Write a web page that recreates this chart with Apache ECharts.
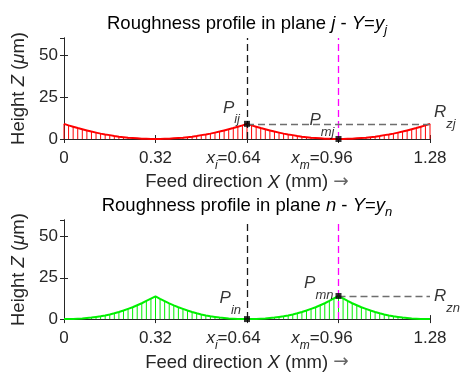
<!DOCTYPE html>
<html><head><meta charset="utf-8">
<script src="https://cdn.jsdelivr.net/npm/echarts@6/dist/echarts.min.js"></script>
<style>html,body{margin:0;padding:0;background:#fff}#c{width:462px;height:373px}</style>
</head><body><div id="c"></div>
<script>
// ---- data ----
const sampleX = [0,0.016,0.032,0.048,0.064,0.08,0.096,0.112,0.128,0.144,0.16,0.176,0.192,0.208,0.224,0.24,0.256,0.272,0.288,0.304,0.32,0.336,0.352,0.368,0.384,0.4,0.416,0.432,0.448,0.464,0.48,0.496,0.512,0.528,0.544,0.56,0.576,0.592,0.608,0.624,0.64,0.656,0.672,0.688,0.704,0.72,0.736,0.752,0.768,0.784,0.8,0.816,0.832,0.848,0.864,0.88,0.896,0.912,0.928,0.944,0.96,0.976,0.992,1.008,1.024,1.04,1.056,1.072,1.088,1.104,1.12,1.136,1.152,1.168,1.184,1.2,1.216,1.232,1.248,1.264,1.28];
const profileJ = [9.0,8.1,7.3,6.5,5.8,5.1,4.4,3.8,3.2,2.7,2.3,1.8,1.4,1.1,0.8,0.6,0.4,0.2,0.1,0.0,0.0,
  0.0,0.1,0.2,0.4,0.6,0.8,1.1,1.4,1.8,2.3,2.7,3.2,3.8,4.4,5.1,5.8,6.5,7.3,8.1,9.0,
  8.1,7.3,6.5,5.8,5.1,4.4,3.8,3.2,2.7,2.3,1.8,1.4,1.1,0.8,0.6,0.4,0.2,0.1,0.0,0.0,
  0.0,0.1,0.2,0.4,0.6,0.8,1.1,1.4,1.8,2.3,2.7,3.2,3.8,4.4,5.1,5.8,6.5,7.3,8.1,9.0];
const profileN = [0.0,0.0,0.1,0.2,0.3,0.6,0.9,1.3,1.7,2.2,2.8,3.5,4.3,5.2,6.2,7.2,8.4,9.6,11.0,12.4,13.8,
  12.3,10.9,9.5,8.3,7.2,6.2,5.2,4.3,3.5,2.8,2.2,1.7,1.3,0.9,0.6,0.3,0.2,0.1,0.0,0.0,
  0.0,0.1,0.2,0.3,0.6,0.9,1.3,1.7,2.2,2.8,3.5,4.3,5.2,6.2,7.2,8.4,9.6,11.0,12.5,14.0,
  12.5,11.0,9.6,8.4,7.2,6.2,5.2,4.3,3.5,2.8,2.2,1.7,1.3,0.9,0.6,0.3,0.2,0.1,0.0,0.0];
const xi = 0.64, xm = 0.96;
const pointsJ = [[0.64, 9.0], [0.96, 0.0]];   // P_ij, P_mj
const pointsN = [[0.64, 0.0], [0.96, 14.0]];  // P_in, P_mn
const rzJ = 9.0, rzN = 14.0;
const xTicksNum = ['0', '0.32', '0.64', '0.96', '1.28'];
const xTicksVar = ['', '', 'x', 'x', ''];
const xTicksSub = ['', '', 'i', 'm', ''];
const yTicks = [0, 25, 50];
const titles = [['j', 'j'], ['n', 'n']];
const pointLabelsJ = ['ij', 'mj'], pointLabelsN = ['in', 'mn'];
const rzLabels = ['zj', 'zn'];

// ---- chart ----
const FONT = "'Liberation Sans', Arial, Helvetica, sans-serif";
const TXT = '#262626';
const TK = 17, LB = 18.5;
const chart = echarts.init(document.getElementById('c'), null, {renderer: 'canvas'});
const grids = [
  {left: 64, top: 38, width: 366, height: 101},
  {left: 64, top: 220, width: 366, height: 101}
];
const tickRich = {
  n: {fontSize: TK, fontFamily: FONT, color: TXT, verticalAlign: 'top', lineHeight: 19},
  v: {fontSize: TK, fontFamily: FONT, color: TXT, fontStyle: 'italic', verticalAlign: 'top', lineHeight: 19},
  s: {fontSize: 12, fontFamily: FONT, color: TXT, fontStyle: 'italic', verticalAlign: 'top', lineHeight: 13, padding: [10, 0, 0, 0]},
  n2: {fontSize: TK, fontFamily: FONT, color: TXT, verticalAlign: 'top', lineHeight: 19, padding: [0, 27, 0, 0]},
  n3: {fontSize: TK, fontFamily: FONT, color: TXT, verticalAlign: 'top', lineHeight: 19, padding: [0, 33, 0, 0]}
};
function xFmt(v) {
  const k = xTicksNum.findIndex(t => Math.abs(+t - v) < 1e-6);
  if (k < 0) return '';
  if (!xTicksVar[k]) return '{n|' + xTicksNum[k] + '}';
  return '{v|' + xTicksVar[k] + '}{s|' + xTicksSub[k] + '}{' + (k === 2 ? 'n2' : 'n3') + '|=' + xTicksNum[k] + '}';
}
const lblRich = {
  p: {fontSize: 17, fontFamily: FONT, color: '#000', fontStyle: 'italic', verticalAlign: 'top', lineHeight: 20},
  s: {fontSize: 13, fontFamily: FONT, color: '#000', fontStyle: 'italic', verticalAlign: 'top', lineHeight: 14, padding: [14, 0, 0, 0]}
};
const xAxes = [], yAxes = [];
grids.forEach((g, gi) => {
  xAxes.push({
    gridIndex: gi, type: 'value', min: 0, max: 1.28, interval: 0.32, position: 'bottom',
    axisLine: {show: true, lineStyle: {color: TXT, width: 1}},
    axisTick: {inside: true, length: 4, lineStyle: {color: TXT}},
    axisLabel: {margin: 11, formatter: xFmt, rich: tickRich},
    splitLine: {show: false},
    name: '{n|Feed direction }{i|X}{n| (mm) }{a|\u2192}', nameLocation: 'middle', nameGap: 31,
    nameTextStyle: {rich: {
      n: {fontSize: LB, fontFamily: FONT, color: TXT},
      i: {fontSize: LB, fontFamily: FONT, color: TXT, fontStyle: 'italic'},
      a: {fontSize: LB, fontFamily: "'DejaVu Sans', sans-serif", color: '#666'}
    }}
  });
  xAxes.push({
    gridIndex: gi, type: 'value', min: 0, max: 1.28, interval: 0.32, position: 'top',
    axisLine: {show: true, lineStyle: {color: TXT, width: 1}},
    axisTick: {inside: true, length: 4, lineStyle: {color: TXT}},
    axisLabel: {show: false}, splitLine: {show: false}
  });
  yAxes.push({
    gridIndex: gi, type: 'value', min: 0, max: 60, interval: 25, position: 'left',
    axisLine: {show: true, lineStyle: {color: TXT, width: 1}},
    axisTick: {inside: true, length: 4, lineStyle: {color: TXT}},
    axisLabel: {margin: 6, fontSize: TK, fontFamily: FONT, color: TXT, showMaxLabel: false,
      formatter: v => (yTicks.indexOf(v) >= 0 ? String(v) : '')},
    splitLine: {show: false},
    name: '{n|Height }{i|Z}{n| (}{i|\u03bc}{n|m)}', nameLocation: 'middle', nameGap: 33, nameRotate: 90,
    nameTextStyle: {rich: {
      n: {fontSize: LB, fontFamily: FONT, color: TXT},
      i: {fontSize: LB, fontFamily: FONT, color: TXT, fontStyle: 'italic'}
    }}
  });
  yAxes.push({
    gridIndex: gi, type: 'value', min: 0, max: 60, interval: 25, position: 'right',
    axisLine: {show: true, lineStyle: {color: TXT, width: 1}},
    axisTick: {inside: true, length: 4, lineStyle: {color: TXT}},
    axisLabel: {show: false}, splitLine: {show: false}
  });
});

function profileSeries(gi, values, color, pts, ptLabels, rz, rzLabel, lblPos, rzPos) {
  const data = sampleX.map((x, i) => [x, values[i]]);
  const xa = gi * 2, ya = gi * 2;
  return [
    {type: 'bar', xAxisIndex: xa, yAxisIndex: ya, data: data, barWidth: 1, silent: true,
      itemStyle: {color: color}, z: 2, animation: false,
      markLine: {silent: true, symbol: ['none', 'none'], label: {show: false}, animation: false,
        data: [
          {xAxis: xi, lineStyle: {color: '#1a1a1a', type: [7, 4], width: 1.3}},
          {xAxis: xm, lineStyle: {color: '#ff00ff', type: [7, 4], width: 1.3}},
          [{coord: [gi === 0 ? xi : xm, rz], lineStyle: {color: '#6e6e6e', type: [7, 4], width: 1.3}}, {coord: [1.28, rz]}]
        ]}},
    {type: 'line', xAxisIndex: xa, yAxisIndex: ya, data: data, showSymbol: false, smooth: false,
      lineStyle: {color: color, width: 2}, itemStyle: {color: color}, z: 3, animation: false, silent: true},
    {type: 'scatter', xAxisIndex: xa, yAxisIndex: ya, symbol: 'rect', symbolSize: 6, z: 5, animation: false, silent: true,
      itemStyle: {color: '#000'},
      data: pts.map((p, k) => ({value: p, label: {show: true, position: lblPos[k], align: 'right', verticalAlign: 'bottom',
        formatter: '{p|P}{s|' + ptLabels[k] + '}', rich: lblRich}}))},
    {type: 'scatter', xAxisIndex: xa, yAxisIndex: ya, symbol: 'circle', symbolSize: 2, z: 5, animation: false, silent: true,
      clip: false, itemStyle: {color: 'rgba(0,0,0,0)'},
      data: [{value: [1.28, rz], label: {show: true, position: rzPos, align: 'left', verticalAlign: 'top',
        formatter: '{p|R}{s|' + rzLabel + '}', rich: lblRich}}]}
  ];
}

const titleRich = {
  n: {fontSize: LB, fontFamily: FONT, color: '#000', fontWeight: 'normal'},
  i: {fontSize: LB, fontFamily: FONT, color: '#000', fontStyle: 'italic', fontWeight: 'normal'},
  s: {fontSize: 13, fontFamily: FONT, color: '#000', fontStyle: 'italic', fontWeight: 'normal', padding: [13, 0, 0, 0]}
};
const option = {
  backgroundColor: '#fff',
  animation: false,
  title: titles.map((t, k) => ({
    text: '{n|Roughness profile in plane }{i|' + t[0] + '}{n| - }{i|Y}{n|=}{i|y}{s|' + t[1] + '}',
    left: grids[k].left + grids[k].width / 2, textAlign: 'center', top: k === 0 ? 11 : 193, padding: 0,
    textStyle: {fontWeight: 'normal', rich: titleRich}
  })),
  grid: grids.map(g => Object.assign({}, g, {containLabel: false})),
  xAxis: xAxes, yAxis: yAxes,
  series: [].concat(
    profileSeries(0, profileJ, '#ff0000', pointsJ, pointLabelsJ, rzJ, rzLabels[0], [[-4, -1.5], [-1, -4.5]], [5, -19]),
    profileSeries(1, profileN, '#00f000', pointsN, pointLabelsN, rzN, rzLabels[1], [[-3, -6.5], [-2, 1.5]], [5, -7])
  )
};
chart.setOption(option);
</script></body></html>
